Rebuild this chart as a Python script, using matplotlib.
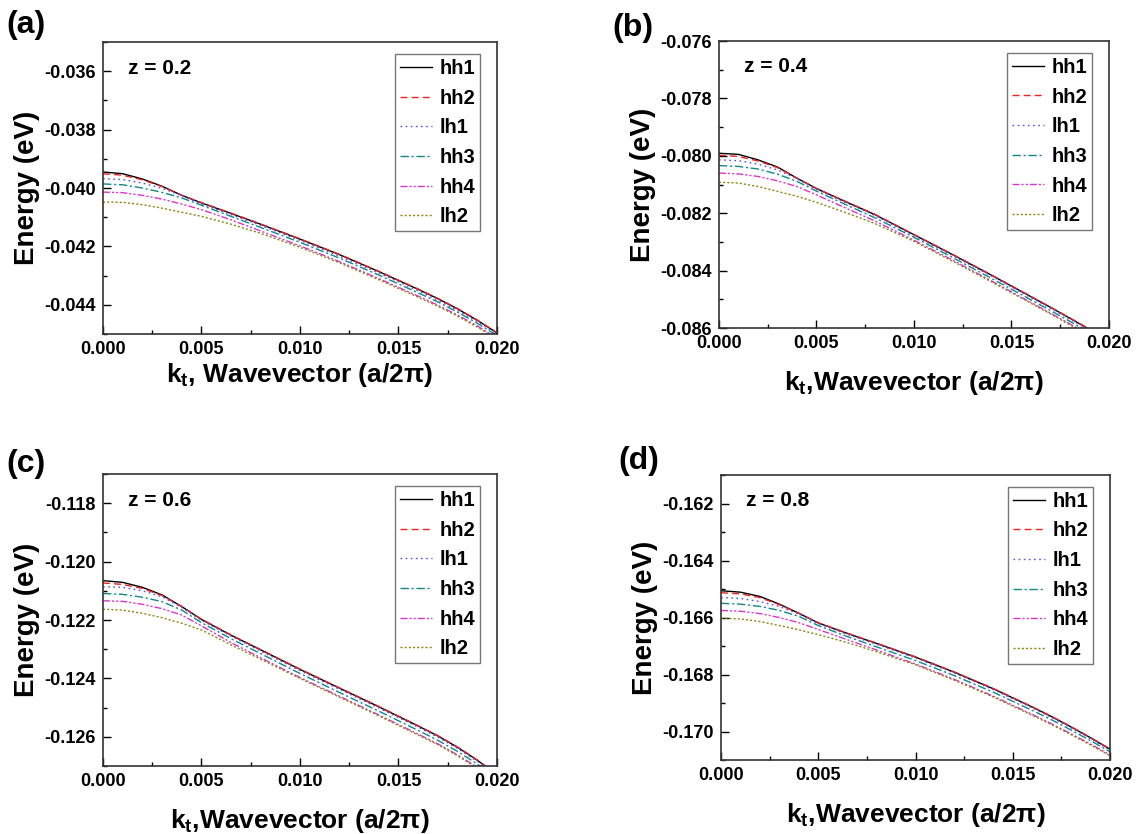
import matplotlib
matplotlib.use("Agg")
from matplotlib import pyplot as plt
from matplotlib.ticker import MultipleLocator, FormatStrFormatter

plt.rcParams['font.family'] = ['Liberation Sans', 'DejaVu Sans']
plt.rcParams['font.weight'] = 'bold'
plt.rcParams['mathtext.fontset'] = 'custom'
plt.rcParams['mathtext.rm'] = 'Liberation Sans:bold'
plt.rcParams['mathtext.bf'] = 'Liberation Sans:bold'

# transverse wavevector grid (a/2pi)
k = [0.0, 0.001, 0.002, 0.003, 0.004, 0.005, 0.0065, 0.008, 0.010, 0.012, 0.014, 0.016, 0.017, 0.018, 0.019, 0.020]

names = ['hh1', 'hh2', 'lh1', 'hh3', 'hh4', 'lh2']
colors = ['black', '#ee2222', '#5050ee', '#118888', '#dd33cc', '#888811']
styles = ['-', (0, (5, 3)), (0, (1.2, 2.5)), (0, (6, 2, 1.5, 2)), (0, (5, 1.5, 1.5, 1.5, 1.5, 1.5)), (0, (1.5, 1.5))]

# z = 0.2
a_hh1 = [-0.03945, -0.03951, -0.03969, -0.03994, -0.04025, -0.04051, -0.04087, -0.04124, -0.04175, -0.04228, -0.04286, -0.04347, -0.04379, -0.04414, -0.04453, -0.04496]
a_hh2 = [-0.03951, -0.03956, -0.03972, -0.03995, -0.04025, -0.04050, -0.04086, -0.04123, -0.04174, -0.04227, -0.04285, -0.04346, -0.04378, -0.04413, -0.04452, -0.04495]
a_lh1 = [-0.03968, -0.03971, -0.03983, -0.04001, -0.04026, -0.04054, -0.04091, -0.04128, -0.04179, -0.04233, -0.04291, -0.04352, -0.04384, -0.04419, -0.04457, -0.04500]
a_hh3 = [-0.03986, -0.03989, -0.04000, -0.04015, -0.04034, -0.04059, -0.04097, -0.04135, -0.04186, -0.04240, -0.04298, -0.04359, -0.04390, -0.04425, -0.04463, -0.04505]
a_hh4 = [-0.04014, -0.04016, -0.04025, -0.04038, -0.04055, -0.04074, -0.04109, -0.04147, -0.04198, -0.04252, -0.04310, -0.04370, -0.04401, -0.04435, -0.04472, -0.04514]
a_lh2 = [-0.04048, -0.04049, -0.04057, -0.04069, -0.04083, -0.04097, -0.04124, -0.04155, -0.04203, -0.04256, -0.04314, -0.04374, -0.04405, -0.04439, -0.04476, -0.04518]

# z = 0.4
b_hh1 = [-0.07991, -0.07995, -0.08014, -0.08039, -0.08078, -0.08114, -0.08160, -0.08205, -0.08275, -0.08345, -0.08417, -0.08491, -0.08528, -0.08566, -0.08605, -0.08645]
b_hh2 = [-0.07998, -0.08002, -0.08018, -0.08041, -0.08078, -0.08114, -0.08159, -0.08204, -0.08274, -0.08344, -0.08416, -0.08490, -0.08527, -0.08565, -0.08604, -0.08644]
b_lh1 = [-0.08014, -0.08017, -0.08029, -0.08049, -0.08080, -0.08117, -0.08163, -0.08208, -0.08278, -0.08348, -0.08420, -0.08494, -0.08531, -0.08569, -0.08608, -0.08648]
b_hh3 = [-0.08034, -0.08037, -0.08046, -0.08064, -0.08089, -0.08123, -0.08170, -0.08216, -0.08284, -0.08355, -0.08428, -0.08502, -0.08539, -0.08577, -0.08615, -0.08655]
b_hh4 = [-0.08060, -0.08063, -0.08072, -0.08087, -0.08107, -0.08136, -0.08182, -0.08227, -0.08294, -0.08364, -0.08437, -0.08511, -0.08548, -0.08586, -0.08624, -0.08663]
b_lh2 = [-0.08092, -0.08095, -0.08107, -0.08124, -0.08141, -0.08162, -0.08198, -0.08236, -0.08298, -0.08368, -0.08440, -0.08514, -0.08551, -0.08589, -0.08627, -0.08666]

# z = 0.6
c_hh1 = [-0.12065, -0.12071, -0.12088, -0.12114, -0.12154, -0.12198, -0.12252, -0.12302, -0.12369, -0.12433, -0.12497, -0.12563, -0.12597, -0.12636, -0.12680, -0.12730]
c_hh2 = [-0.12073, -0.12078, -0.12092, -0.12116, -0.12154, -0.12197, -0.12251, -0.12301, -0.12368, -0.12432, -0.12496, -0.12562, -0.12596, -0.12635, -0.12679, -0.12729]
c_lh1 = [-0.12086, -0.12088, -0.12100, -0.12120, -0.12157, -0.12201, -0.12255, -0.12306, -0.12373, -0.12437, -0.12501, -0.12567, -0.12601, -0.12640, -0.12684, -0.12733]
c_hh3 = [-0.12109, -0.12112, -0.12122, -0.12137, -0.12166, -0.12209, -0.12264, -0.12315, -0.12383, -0.12448, -0.12512, -0.12578, -0.12612, -0.12650, -0.12693, -0.12741]
c_hh4 = [-0.12134, -0.12136, -0.12146, -0.12161, -0.12183, -0.12220, -0.12277, -0.12329, -0.12397, -0.12461, -0.12525, -0.12591, -0.12624, -0.12662, -0.12704, -0.12751]
c_lh2 = [-0.12163, -0.12166, -0.12177, -0.12192, -0.12211, -0.12234, -0.12285, -0.12334, -0.12400, -0.12464, -0.12528, -0.12594, -0.12627, -0.12665, -0.12707, -0.12754]

# z = 0.8
d_hh1 = [-0.16506, -0.16511, -0.16526, -0.16553, -0.16585, -0.16619, -0.16656, -0.16691, -0.16739, -0.16792, -0.16850, -0.16914, -0.16948, -0.16984, -0.17022, -0.17062]
d_hh2 = [-0.16513, -0.16517, -0.16530, -0.16555, -0.16585, -0.16618, -0.16655, -0.16690, -0.16738, -0.16791, -0.16849, -0.16913, -0.16947, -0.16983, -0.17021, -0.17061]
d_lh1 = [-0.16530, -0.16533, -0.16544, -0.16561, -0.16588, -0.16621, -0.16659, -0.16694, -0.16742, -0.16795, -0.16853, -0.16917, -0.16951, -0.16987, -0.17025, -0.17065]
d_hh3 = [-0.16550, -0.16553, -0.16561, -0.16575, -0.16596, -0.16628, -0.16667, -0.16703, -0.16751, -0.16804, -0.16862, -0.16926, -0.16959, -0.16995, -0.17032, -0.17071]
d_hh4 = [-0.16575, -0.16578, -0.16586, -0.16600, -0.16618, -0.16642, -0.16678, -0.16714, -0.16763, -0.16817, -0.16876, -0.16940, -0.16973, -0.17008, -0.17044, -0.17082]
d_lh2 = [-0.16602, -0.16605, -0.16614, -0.16628, -0.16643, -0.16660, -0.16688, -0.16720, -0.16766, -0.16820, -0.16879, -0.16943, -0.16976, -0.17011, -0.17047, -0.17085]

panels = [
    ('(a)', 'z = 0.2', [a_hh1, a_hh2, a_lh1, a_hh3, a_hh4, a_lh2], (-0.045, -0.035), [-0.036, -0.038, -0.040, -0.042, -0.044], 'k$_\\mathbf{t}$, Wavevector (a/2π)'),
    ('(b)', 'z = 0.4', [b_hh1, b_hh2, b_lh1, b_hh3, b_hh4, b_lh2], (-0.086, -0.076), [-0.076, -0.078, -0.080, -0.082, -0.084, -0.086], 'k$_\\mathbf{t}$,Wavevector (a/2π)'),
    ('(c)', 'z = 0.6', [c_hh1, c_hh2, c_lh1, c_hh3, c_hh4, c_lh2], (-0.127, -0.117), [-0.118, -0.120, -0.122, -0.124, -0.126], 'k$_\\mathbf{t}$,Wavevector (a/2π)'),
    ('(d)', 'z = 0.8', [d_hh1, d_hh2, d_lh1, d_hh3, d_hh4, d_lh2], (-0.171, -0.161), [-0.162, -0.164, -0.166, -0.168, -0.170], 'k$_\\mathbf{t}$,Wavevector (a/2π)'),
]

rects = [[0.0905, 0.5995, 0.3462, 0.3501],
         [0.6318, 0.6067, 0.3427, 0.3441],
         [0.0905, 0.0815, 0.3462, 0.3501],
         [0.6336, 0.0887, 0.3418, 0.3417]]
tag_pos = [(0.006, 0.988), (0.538, 0.985), (0.006, 0.462), (0.543, 0.465)]
xlab_pad = [2, 12, 12, 12]

fig = plt.figure(figsize=(11.38, 8.34), dpi=100)

for i, (tag, ztext, series, ylim, yticks, xlab) in enumerate(panels):
    ax = fig.add_axes(rects[i])
    for j in range(len(names)):
        ax.plot(k, series[j], color=colors[j], linestyle=styles[j], linewidth=1.0, label=names[j])
    ax.set_xlim(0, 0.020)
    ax.set_ylim(ylim)
    ax.set_xticks([0.0, 0.005, 0.010, 0.015, 0.020])
    ax.set_yticks(yticks)
    ax.xaxis.set_minor_locator(MultipleLocator(0.0025))
    ax.yaxis.set_minor_locator(MultipleLocator(0.001))
    ax.xaxis.set_major_formatter(FormatStrFormatter('%.3f'))
    ax.yaxis.set_major_formatter(FormatStrFormatter('%.3f'))
    ax.tick_params(which='both', direction='in', top=False, right=False, labelsize=13, width=1.0)
    ax.tick_params(which='major', length=6, pad=5)
    ax.tick_params(which='minor', length=3)
    for lab in ax.get_xticklabels() + ax.get_yticklabels():
        lab.set_fontweight('bold')
    for sp in ax.spines.values():
        sp.set_linewidth(1.2)
        sp.set_color('#333333')
    ax.set_ylabel('Energy (eV)', fontsize=20, fontweight='bold', labelpad=3)
    ax.set_xlabel(xlab, fontsize=19, fontweight='bold', labelpad=xlab_pad[i])
    ax.text(0.063, 0.91, ztext, transform=ax.transAxes, fontsize=15, fontweight='bold', va='center')
    leg = ax.legend(loc='upper right', bbox_to_anchor=(0.957, 0.959), fontsize=14.5, frameon=True,
                    fancybox=False, handlelength=1.6, handletextpad=0.35, labelspacing=0.53,
                    borderpad=0.25, borderaxespad=0.0)
    leg.get_frame().set_edgecolor('#555555')
    leg.get_frame().set_linewidth(1.0)
    for t in leg.get_texts():
        t.set_fontweight('bold')
    fig.text(tag_pos[i][0], tag_pos[i][1], tag, fontsize=23, fontweight='bold', va='top', ha='left')

fig.savefig('out.png', dpi=100)
